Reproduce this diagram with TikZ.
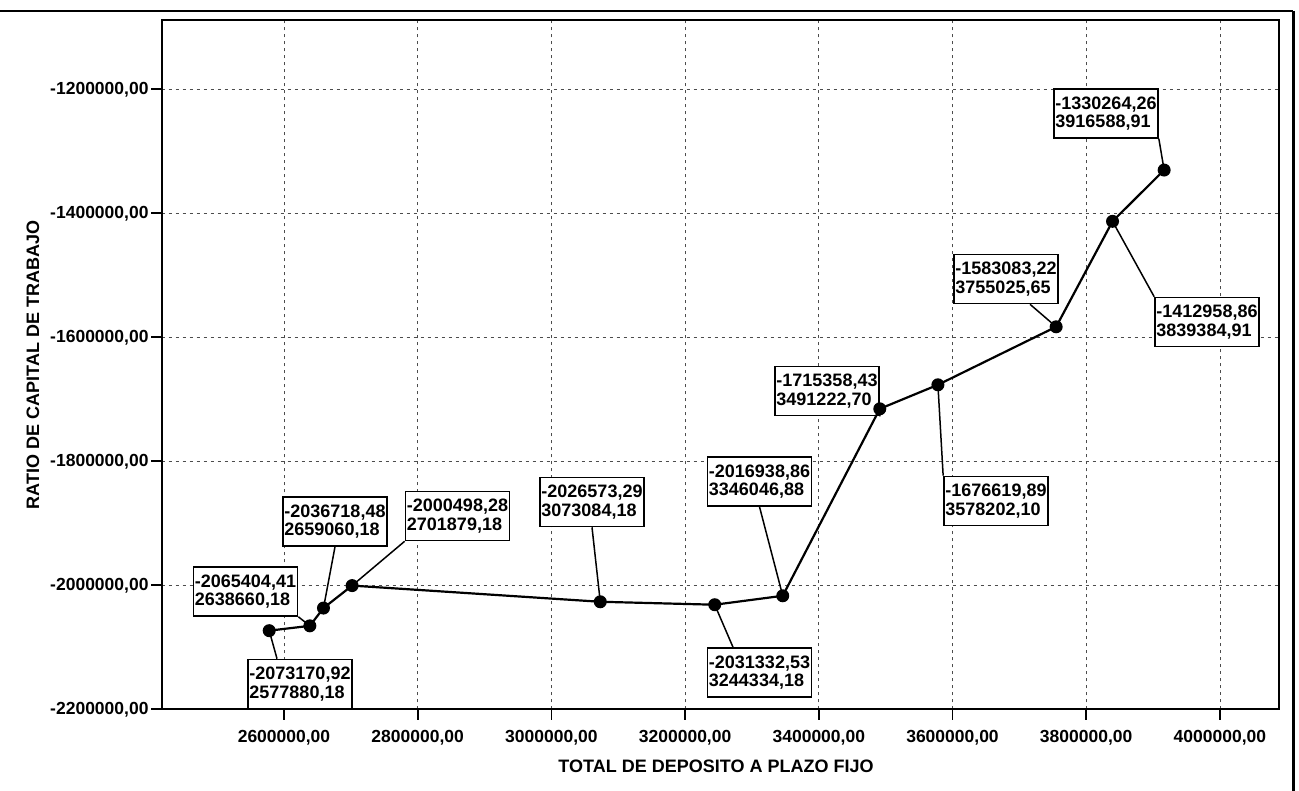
\documentclass[tikz,border=0pt]{standalone}
\usepackage{fontspec}
\setmainfont{Liberation Sans}
\tikzset{
  gridline/.style={line width=0.8pt, black!70, dash pattern=on 3pt off 4pt},
  framestyle/.style={line width=1.8pt},
  series/.style={line width=2.2pt},
  dot/.style={circle, fill=black, inner sep=0pt, minimum size=13pt},
  lbl/.style={draw, line width=1.6pt, fill=white, align=left, inner xsep=1.5pt, inner ysep=2pt,
    minimum width=102pt, minimum height=49pt, font=\fontsize{18}{18.5}\selectfont\bfseries},
  conn/.style={line width=1.5pt},
  ticklbl/.style={font=\fontsize{17.5}{18}\selectfont\bfseries, inner sep=0pt},
  axtitle/.style={font=\fontsize{18}{18}\selectfont\bfseries, inner sep=0pt},
}
\begin{document}
\begin{tikzpicture}[x=1pt,y=1pt]
\useasboundingbox (0,0) rectangle (1299,791);
% scan frame
\coordinate (tl) at (0,780);
\coordinate (tr) at (1293,780);
\coordinate (br) at (1293,0);
\draw[line width=2pt] (tl) -- (tr);
\draw[line width=3pt] (tr) -- (br);
\begin{scope}[shift={(284pt,701.7pt)}, x=66.85pt, y=62pt]
  % grid
  \foreach \u in {0,2,...,14} \draw[gridline] (\u,-10) -- (\u,1.118);
  \foreach \w in {0,-2,-4,-6,-8} \draw[gridline] (-1.829,\w) -- (14.884,\w);
  % frame
  \coordinate (fsw) at (-1.829,-10);
  \coordinate (fne) at (14.884,1.118);
  \draw[framestyle] (fsw) rectangle (fne);
  % ticks and tick labels
  \foreach \u/\t in {0/2600000,2/2800000,4/3000000,6/3200000,8/3400000,10/3600000,12/3800000,14/4000000}{
    \draw[framestyle] (\u,-10) -- ++(0,-11pt);
    \path (\u,-10) ++(0,-28.5pt) node[ticklbl] (xt\t) {\t,00};
  }
  \foreach \w/\t in {0/1200000,-2/1400000,-4/1600000,-6/1800000,-8/2000000,-10/2200000}{
    \draw[framestyle] (-1.829,\w) -- ++(-11pt,0);
    \path (-1.829,\w) ++(-13pt,0) node[ticklbl, anchor=east] (yt\t) {-\t,00};
  }
  % data points
  \coordinate (c1) at (-0.2212,-8.7317);
  \coordinate (c2) at (0.3866,-8.6540);
  \coordinate (c3) at (0.5906,-8.3672);
  \coordinate (c4) at (1.0188,-8.0050);
  \coordinate (c5) at (4.7308,-8.2657);
  \coordinate (c6) at (6.4433,-8.3133);
  \coordinate (c7) at (7.4605,-8.1694);
  \coordinate (c8) at (8.9122,-5.1536);
  \coordinate (c9) at (9.7820,-4.7662);
  \coordinate (c10) at (11.5503,-3.8308);
  \coordinate (c11) at (12.3938,-2.1296);
  \coordinate (c12) at (13.1659,-1.3026);
\end{scope}
% axis titles
\node[axtitle] (xtitle) at (716,25) {TOTAL DE DEPOSITO A PLAZO FIJO};
\node[axtitle, rotate=90] (ytitle) at (33,426) {RATIO DE CAPITAL DE TRABAJO};
% label boxes
\node[lbl] (b1) at (300,107) {-2073170,92\\2577880,18};
\node[lbl] (b2) at (245.5,199.5) {-2065404,41\\2638660,18};
\node[lbl] (b3) at (335,269.5) {-2036718,48\\2659060,18};
\node[lbl] (b4) at (457.5,275) {-2000498,28\\2701879,18};
\node[lbl] (b5) at (592,289) {-2026573,29\\3073084,18};
\node[lbl] (b6) at (759.5,118.5) {-2031332,53\\3244334,18};
\node[lbl] (b7) at (759.5,309.5) {-2016938,86\\3346046,88};
\node[lbl] (b8) at (827,400) {-1715358,43\\3491222,70};
\node[lbl] (b9) at (996,290) {-1676619,89\\3578202,10};
\node[lbl] (b10) at (1006,512) {-1583083,22\\3755025,65};
\node[lbl] (b11) at (1207,469) {-1412958,86\\3839384,91};
\node[lbl] (b12) at (1106,677.5) {-1330264,26\\3916588,91};
% connectors
\draw[conn] (c1) -- ([xshift=-23pt]b1.north);
\draw[conn] (c2) -- (b2.south east);
\draw[conn] (c3) -- (b3.south);
\draw[conn] (c4) -- (b4.south west);
\draw[conn] (c5) -- (b5.south);
\draw[conn] (c6) -- ([xshift=-26.5pt]b6.north);
\draw[conn] (c7) -- (b7.south);
\draw[conn] (c8) -- (b8.south east);
\draw[conn] (c9) -- (b9.north west);
\draw[conn] (c10) -- ([xshift=24pt]b10.south);
\draw[conn] (c11) -- (b11.north west);
\draw[conn] (c12) -- (b12.south east);
% series
\draw[series] (c1) -- (c2) -- (c3) -- (c4) -- (c5) -- (c6) -- (c7) -- (c8) -- (c9) -- (c10) -- (c11) -- (c12);
\foreach \i in {1,...,12} \node[dot] (p\i) at (c\i) {};
\end{tikzpicture}
\end{document}
